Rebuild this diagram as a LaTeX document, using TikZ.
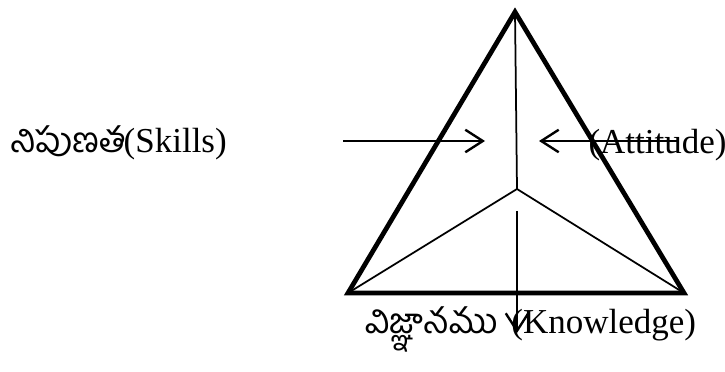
\documentclass[tikz,border=0pt]{standalone}
\usepackage{fontspec}
\setmainfont{Liberation Serif}
\newfontfamily\telugu[Script=Telugu]{Hind Guntur}
\usetikzlibrary{arrows.meta}
\tikzset{
  outer/.style={line width=1.9pt, line join=miter},
  inner/.style={line width=0.7pt},
  arr/.style={line width=0.95pt, -{Straight Barb[length=7pt,width=9pt,line width=0.95pt]}},
  lbl/.style={anchor=base west, inner sep=0pt, font=\fontsize{14}{16}\selectfont}
}
\begin{document}
\begin{tikzpicture}[x=0.4pt,y=-0.4pt]
\useasboundingbox (0,0) rectangle (725,372);
\coordinate (A) at (515,12);
\coordinate (BL) at (348,293);
\coordinate (BR) at (684,293);
\coordinate (C) at (517,189);
\draw[outer] (A) -- (BL) -- (BR) -- cycle;
\draw[inner] (A) -- (C);
\draw[inner] (C) -- (BL);
\draw[inner] (C) -- (BR);
\coordinate (s1) at (343,141);
\coordinate (s2) at (485,141);
\coordinate (a1) at (678,141);
\coordinate (a2) at (539,141);
\coordinate (k1) at (517,211);
\coordinate (k2) at (517,333);
\node[lbl] (skills) at (10,153) {{\telugu నిపుణత}\kern-1pt(Skills)};
\node[lbl] (att) at (588,154) {(Attitude)};
\node[lbl] (know) at (365,333) {{\telugu విజ్ఞానము}\kern5.5pt (Knowledge)};
\draw[arr] (s1) -- (s2);
\draw[arr] (a1) -- (a2);
\draw[arr] (k1) -- (k2);
\end{tikzpicture}
\end{document}
